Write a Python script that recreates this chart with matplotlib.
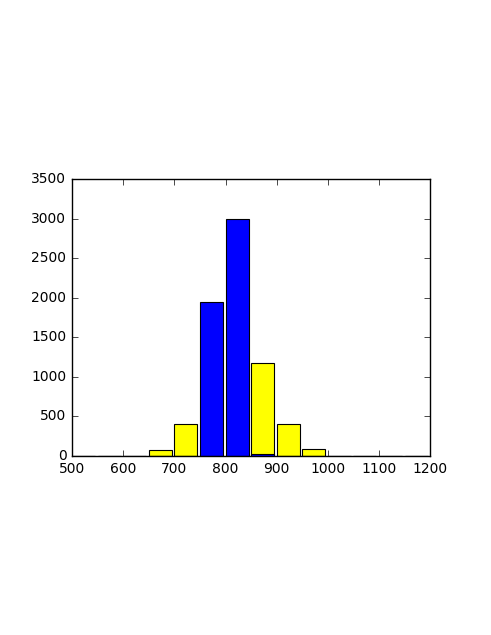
import matplotlib
matplotlib.use("Agg")
import matplotlib.pyplot as plt

bin_left = [500, 550, 600, 650, 700, 750, 800, 850, 900, 950, 1000, 1050, 1100, 1150]
yellow_counts = [0, 0, 0, 70, 405, 0, 0, 1180, 405, 90, 5, 0, 0, 0]
blue_counts = [0, 0, 0, 0, 0, 1950, 3000, 30, 0, 0, 5, 0, 0, 0]

plt.style.use('classic')
fig = plt.figure(figsize=(4.91, 6.35), dpi=100)
ax = fig.add_axes([0.1466, 0.2819, 0.7296, 0.4363])

# bars start at the bin edge, 90% of the bin width
ax.bar(bin_left, yellow_counts, width=45, align='edge',
       color='yellow', edgecolor='black', linewidth=0.8)
ax.bar(bin_left, blue_counts, width=45, align='edge',
       color='blue', edgecolor='black', linewidth=0.8)

ax.set_xlim(500, 1200)
ax.set_ylim(0, 3500)
ax.set_xticks(range(500, 1201, 100))
ax.set_yticks(range(0, 3501, 500))
ax.tick_params(labelsize=10)

fig.savefig("out.png", dpi=100)
